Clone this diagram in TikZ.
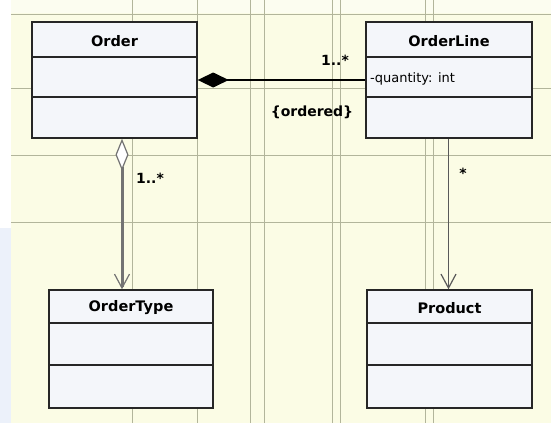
\documentclass[tikz,border=0pt]{standalone}
\usepackage{fontspec}
\setmainfont{DejaVu Sans}
\usetikzlibrary{arrows.meta}

\definecolor{paper}{RGB}{251,252,229}
\definecolor{paperlight}{RGB}{252,253,240}
\definecolor{gridc}{RGB}{178,181,155}
\definecolor{boxfill}{RGB}{244,246,250}
\definecolor{marginblue}{RGB}{236,241,250}

\tikzset{
  classbox/.style={draw=black!85, line width=1.4pt, fill=boxfill, inner sep=0pt},
  divider/.style={draw=black!85, line width=1.2pt},
  headtext/.style={font=\fontsize{14.5}{17}\selectfont\bfseries, inner sep=0pt},
  attrtext/.style={font=\fontsize{13}{15}\selectfont, inner sep=0pt, anchor=west},
  multlabel/.style={font=\fontsize{14}{16}\selectfont\bfseries, inner sep=0pt},
  gridline/.style={draw=gridc, line width=0.8pt},
  compos/.style={{Diamond[length=31,width=15]}-, line width=1.6pt, draw=black},
  aggr/.style={{Diamond[fill=white,length=32,width=13,line width=1.2pt]}-{Straight Barb[length=14,width=15,line width=1.2pt]},
               line width=3pt, draw=black!55},
  assoc/.style={-{Straight Barb[length=14,width=15,line width=1.2pt]}, line width=1.1pt, draw=black!65},
}

\begin{document}
\begin{tikzpicture}[x=1pt,y=-1pt]
  % canvas and margins
  \useasboundingbox (0,0) rectangle (551,423);
  \fill[paper] (0,0) rectangle (551,423);
  \fill[paperlight] (11,0) rectangle (551,13);
  \fill[white] (0,0) rectangle (11,228);
  \fill[marginblue] (0,228) rectangle (11,423);

  % drawing grid
  \foreach \gx in {132,197,250,264,332,340,425,433}
    \draw[gridline] (\gx,0) -- (\gx,423);
  \foreach \gy in {14,88,155,222}
    \draw[gridline] (11,\gy) -- (551,\gy);

  % class Order
  \node[classbox, minimum width=165, minimum height=116] (order) at (114.5,80) {};
  \draw[divider] (order.west |- 0,57) -- (order.east |- 0,57);
  \draw[divider] (order.west |- 0,97) -- (order.east |- 0,97);
  \node[headtext] (order-name) at (order.north |- 0,41) {Order};

  % class OrderLine
  \node[classbox, minimum width=166, minimum height=116] (orderline) at (449,80) {};
  \draw[divider] (orderline.west |- 0,57) -- (orderline.east |- 0,57);
  \draw[divider] (orderline.west |- 0,97) -- (orderline.east |- 0,97);
  \node[headtext] (orderline-name) at (orderline.north |- 0,41) {OrderLine};
  \node[attrtext] (orderline-attr) at (370,79) {-quantity: int};

  % class OrderType
  \node[classbox, minimum width=164, minimum height=118] (ordertype) at (131,349) {};
  \draw[divider] (ordertype.west |- 0,323) -- (ordertype.east |- 0,323);
  \draw[divider] (ordertype.west |- 0,365) -- (ordertype.east |- 0,365);
  \node[headtext] (ordertype-name) at (ordertype.north |- 0,308) {OrderType};

  % class Product
  \node[classbox, minimum width=165, minimum height=118] (product) at (449.5,349) {};
  \draw[divider] (product.west |- 0,323) -- (product.east |- 0,323);
  \draw[divider] (product.west |- 0,365) -- (product.east |- 0,365);
  \node[headtext] (product-name) at (product.north |- 0,308) {Product};

  % composition Order <>-- OrderLine
  \draw[compos] (order.east) -- (orderline.west);
  \node[multlabel] (comp-mult) at (335,60) {1..*};
  \node[multlabel] (comp-order) at (312,112) {\{ordered\}};

  % aggregation Order <>--> OrderType
  \coordinate (agg-start) at ([xshift=7.5]order.south);
  \draw[aggr] (agg-start) -- (agg-start |- ordertype.north);
  \node[multlabel] (agg-mult) at (150,178) {1..*};

  % association OrderLine --> Product
  \coordinate (assoc-start) at ([xshift=-0.5]orderline.south);
  \draw[assoc] (assoc-start) -- (assoc-start |- product.north);
  \node[multlabel] (assoc-mult) at (463,173) {*};
\end{tikzpicture}
\end{document}
